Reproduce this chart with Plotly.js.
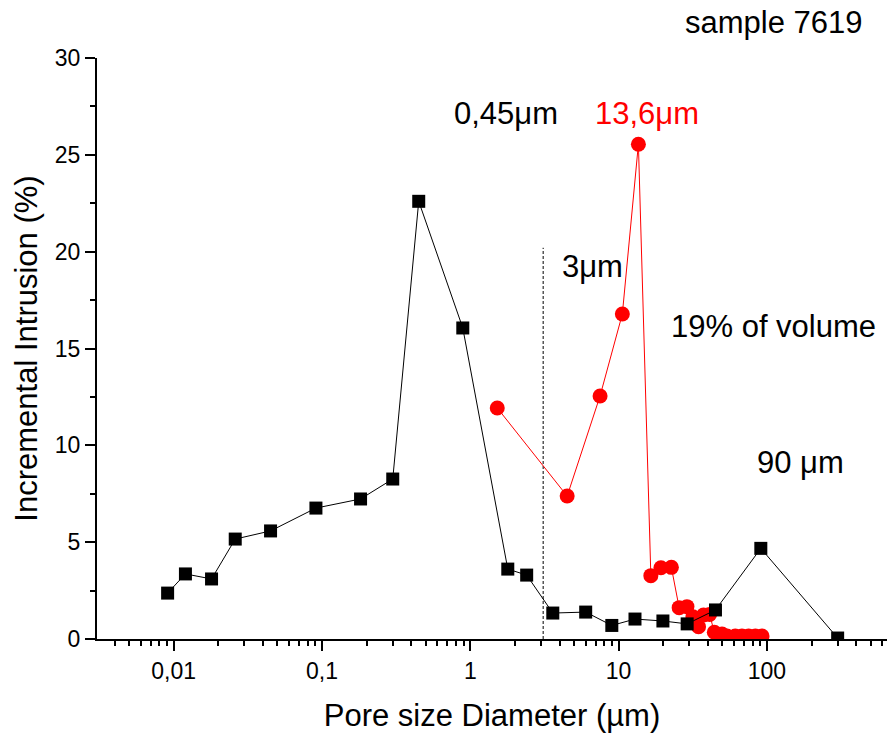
<!DOCTYPE html>
<html>
<head>
<meta charset="utf-8">
<script src="https://cdn.plot.ly/plotly-3.0.1.min.js"></script>
<style>html,body{margin:0;padding:0;background:#fff;}#chart{width:887px;height:735px;}</style>
</head>
<body>
<div id="chart"></div>
<script>
// Black series (squares)
const blackX = [0.0091, 0.012, 0.018, 0.026, 0.045, 0.091, 0.182, 0.30, 0.449, 0.89, 1.79, 2.4, 3.6, 6.0, 9.0, 12.9, 19.9, 29, 45, 91, 300];
const blackY = [2.37, 3.36, 3.1, 5.16, 5.58, 6.76, 7.23, 8.26, 22.6, 16.06, 3.61, 3.3, 1.34, 1.39, 0.7, 1.03, 0.93, 0.78, 1.5, 4.68, 0.05];
// Red series (circles)
const redX = [1.52, 4.5, 7.5, 10.6, 13.6, 16.5, 19.3, 22.7, 25.6, 28.9, 31.7, 34.6, 37.4, 41.1, 44.2, 49.8, 53.8, 61.2, 67.9, 75.3, 83.6, 92.7];
const redY = [11.93, 7.38, 12.55, 16.78, 25.55, 3.27, 3.68, 3.7, 1.62, 1.67, 1.15, 0.63, 1.24, 1.27, 0.35, 0.26, 0.15, 0.15, 0.15, 0.15, 0.15, 0.15];
// Threshold line at 3 µm
const thresholdX = [3.1, 3.1];
const thresholdY = [0, 20.2];
// Tick labels
const xTickVals = [0.01, 0.1, 1, 10, 100];
const xTickText = ['0,01', '0,1', '1', '10', '100'];
const yTickVals = [0, 5, 10, 15, 20, 25, 30];

const FONT = 'Arial, "Liberation Sans", sans-serif';

// minor ticks on the log axis (2..9 per decade)
const xMinor = [];
for (let e = -3; e <= 2; e++) {
  for (let k = 2; k <= 9; k++) xMinor.push(k * Math.pow(10, e));
}

const traces = [
  {x: thresholdX, y: thresholdY, mode: 'lines', line: {color: '#000', width: 1, dash: '3px,2px'}, hoverinfo: 'skip'},
  {x: redX, y: redY, mode: 'lines+markers', line: {color: '#ff0000', width: 1},
   marker: {symbol: 'circle', size: 15, color: '#ff0000'}},
  {x: blackX, y: blackY, mode: 'lines+markers', line: {color: '#000', width: 1},
   marker: {symbol: 'square', size: 13, color: '#000'}}
];

const L = 97, R = 0, T = 58, B = 96, W = 887, H = 735;
const pw = W - L - R, ph = H - T - B;
function px(x) { return (x - L) / pw; }
function py(y) { return (H - B - y) / ph; }

const annFont = {family: FONT, size: 31, color: '#000'};
const annotations = [
  {text: 'sample 7619', x: px(774), y: py(22)},
  {text: '0,45μm', x: px(506), y: py(114)},
  {text: '13,6μm', x: px(647), y: py(114), font: {family: FONT, size: 31, color: '#ff0000'}},
  {text: '3μm', x: px(592), y: py(266)},
  {text: '19% of volume', x: px(773), y: py(326)},
  {text: '90 μm', x: px(800), y: py(462)}
].map(a => Object.assign({xref: 'paper', yref: 'paper', showarrow: false, xanchor: 'center', yanchor: 'middle', font: annFont}, a));

const layout = {
  width: W, height: H,
  margin: {l: L, r: R, t: T, b: B, pad: 0},
  paper_bgcolor: '#fff', plot_bgcolor: '#fff',
  showlegend: false,
  font: {family: FONT, color: '#000'},
  xaxis: {
    type: 'log',
    range: [Math.log10(0.00304), Math.log10(0.00304) + 5.327],
    tickmode: 'array', tickvals: xTickVals, ticktext: xTickText,
    ticks: 'outside', ticklen: 10, tickwidth: 2, tickcolor: '#000',
    tickfont: {family: FONT, size: 23, color: '#000'},
    showline: true, linecolor: '#000', linewidth: 2,
    showgrid: false, zeroline: false,
    minor: {tickmode: 'array', tickvals: xMinor, ticks: 'outside', ticklen: 5, tickwidth: 2, tickcolor: '#000', showgrid: false},
    title: {text: 'Pore size Diameter (µm)', font: {family: FONT, size: 31, color: '#000'}, standoff: 22}
  },
  yaxis: {
    range: [0, 30],
    tickmode: 'array', tickvals: yTickVals,
    ticks: 'outside', ticklen: 10, tickwidth: 2, tickcolor: '#000',
    tickfont: {family: FONT, size: 23, color: '#000'},
    showline: true, linecolor: '#000', linewidth: 2,
    showgrid: false, zeroline: false,
    minor: {dtick: 2.5, ticks: 'outside', ticklen: 5, tickwidth: 2, tickcolor: '#000', showgrid: false},
    title: {text: 'Incremental Intrusion (%)', font: {family: FONT, size: 31, color: '#000'}, standoff: 8}
  },
  annotations: annotations
};

Plotly.newPlot('chart', traces, layout, {displayModeBar: false, staticPlot: true});
</script>
</body>
</html>
